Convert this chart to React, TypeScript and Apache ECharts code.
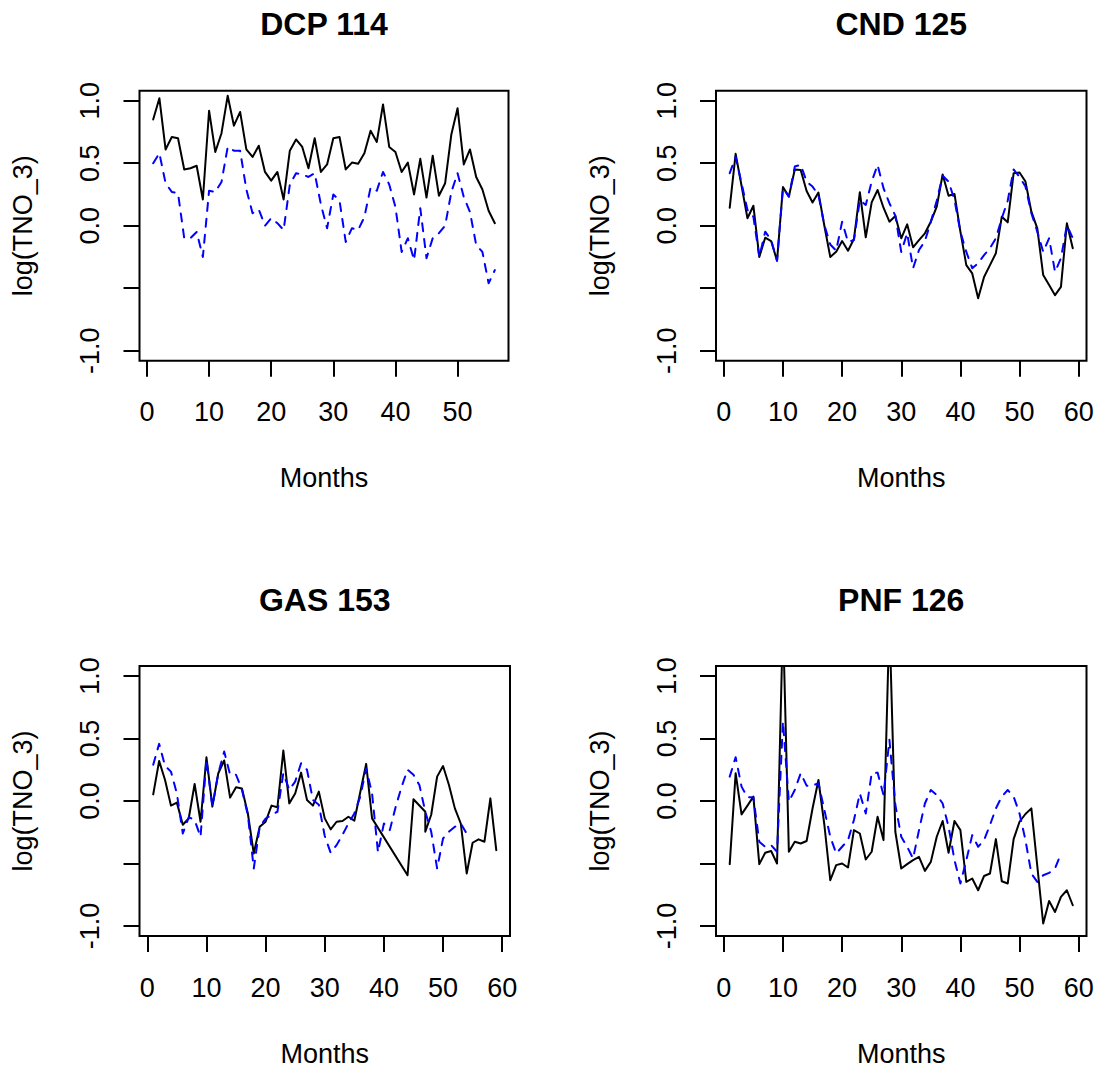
import React, { useEffect, useRef } from "react";
import * as echarts from "echarts";

const FONT = "'Liberation Sans', Arial, Helvetica, sans-serif";

const panelTitles = ["DCP 114", "CND 125", "GAS 153", "PNF 126"];
const xAxisTitle = "Months";
const yAxisTitle = "log(TNO_3)";
const xTicksShort = [0, 10, 20, 30, 40, 50];
const xTicksLong = [0, 10, 20, 30, 40, 50, 60];
const yTicks = [-1, -0.5, 0, 0.5, 1];
const yTickLabels = [-1, 0, 0.5, 1];
const yLimits = [-1, 1];

// DCP 114
const dcpActual = [
  0.85, 1.02, 0.61, 0.71, 0.7, 0.45, 0.46, 0.48, 0.21, 0.92,
  0.59, 0.74, 1.04, 0.8, 0.91, 0.61, 0.55, 0.64, 0.43, 0.36,
  0.43, 0.21, 0.6, 0.69, 0.63, 0.46, 0.7, 0.43, 0.49, 0.7,
  0.71, 0.45, 0.505, 0.495, 0.58, 0.76, 0.67, 0.97, 0.63, 0.59,
  0.43, 0.505, 0.25, 0.535, 0.225, 0.56, 0.24, 0.34, 0.73, 0.94,
  0.49, 0.61, 0.39, 0.29, 0.12, 0.02,
];
const dcpFitted = [
  0.5, 0.58, 0.34, 0.27, 0.26, -0.1, -0.1, -0.05, -0.25, 0.28,
  0.27, 0.35, 0.63, 0.6, 0.6, 0.29, 0.1, 0.13, 0.0, 0.06,
  0.02, -0.035, 0.33, 0.42, 0.41, 0.39, 0.42, 0.17, -0.02, 0.25,
  0.2, -0.13, -0.02, -0.035, 0.07, 0.305, 0.28, 0.43, 0.33, 0.15,
  -0.21, -0.1, -0.275, 0.14, -0.26, -0.1, -0.06, 0.0, 0.27, 0.42,
  0.23, 0.11, -0.155, -0.21, -0.46, -0.355,
];

// CND 125
const cndActual = [
  0.144, 0.575, 0.32, 0.06, 0.16, -0.25, -0.096, -0.123, -0.28, 0.31,
  0.233, 0.45, 0.445, 0.278, 0.185, 0.265, 0.0, -0.25, -0.208, -0.123,
  -0.2, -0.107, 0.268, -0.093, 0.187, 0.286, 0.144, 0.032, 0.078, -0.101,
  0.011, -0.173, -0.115, -0.061, 0.032, 0.152, 0.41, 0.24, 0.254, -0.048,
  -0.315, -0.382, -0.58, -0.41, -0.315, -0.22, 0.072, 0.027, 0.42, 0.425,
  0.353, 0.112, -0.021, -0.395, -0.475, -0.556, -0.49, 0.019, -0.18,
];
const cndFitted = [
  0.42, 0.55, 0.34, 0.126, 0.072, -0.25, -0.048, -0.115, -0.28, 0.3,
  0.233, 0.473, 0.487, 0.353, 0.313, 0.246, 0.005, -0.15, -0.2, 0.032,
  -0.13, -0.115, 0.206, 0.166, 0.353, 0.487, 0.3, 0.18, 0.08, -0.21,
  -0.06, -0.34, -0.195, -0.123, 0.03, 0.2, 0.4, 0.353, 0.206, -0.048,
  -0.21, -0.34, -0.3, -0.235, -0.18, -0.1, 0.06, 0.2, 0.45, 0.39,
  0.313, 0.1, -0.048, -0.21, -0.1, -0.37, -0.26, 0.005, -0.1,
];

// GAS 153 (actual series has gaps in its months)
const gasActualMonths = [
  1, 2, 3, 4, 5, 6, 7, 8, 9, 10, 11, 12, 13, 14, 15, 16, 17, 18, 19, 20,
  21, 22, 23, 24, 25, 26, 27, 28, 29, 30, 31, 32, 33, 34, 35, 36, 37, 38,
  44, 45, 47, 47, 48, 49, 50, 51, 52, 53, 54, 55, 56, 57, 58, 59,
];
const gasActual = [
  0.053, 0.32, 0.168, -0.037, -0.013, -0.19, -0.14, 0.136, -0.166, 0.35,
  -0.045, 0.222, 0.324, 0.027, 0.11, 0.1, -0.1, -0.42, -0.206, -0.166,
  -0.037, -0.05, 0.404, -0.019, 0.06, 0.227, 0.008, -0.037, 0.075, -0.139,
  -0.227, -0.166, -0.16, -0.126, -0.158, 0.07, 0.297, -0.139,
  -0.594, 0.014, -0.086, -0.246, -0.11, 0.195, 0.28, 0.128, -0.059, -0.18,
  -0.58, -0.334, -0.307, -0.326, 0.021, -0.393,
];
const gasFitted = [
  0.29, 0.457, 0.28, 0.235, 0.06, -0.26, -0.13, -0.152, -0.286, 0.33,
  -0.045, 0.222, 0.396, 0.21, 0.21, 0.09, -0.112, -0.54, -0.206, -0.14,
  -0.112, -0.086, 0.222, 0.09, 0.155, 0.302, 0.25, 0.008, -0.03, -0.28,
  -0.414, -0.353, -0.27, -0.18, -0.1, 0.035, 0.26, 0.06, -0.41, -0.18,
  -0.233, -0.045, 0.115, 0.25, 0.21, 0.128, -0.086, -0.246, -0.54, -0.3,
  -0.246, -0.206, -0.18, -0.26,
];

// PNF 126
const pnfActual = [
  -0.505, 0.222, -0.107, -0.037, 0.035, -0.505, -0.414, -0.4, -0.5, 1.45,
  -0.406, -0.326, -0.34, -0.32, -0.06, 0.168, -0.19, -0.634, -0.513, -0.5,
  -0.532, -0.233, -0.26, -0.468, -0.406, -0.126, -0.313, 1.45, -0.246, -0.54,
  -0.505, -0.473, -0.447, -0.559, -0.487, -0.286, -0.16, -0.414, -0.16, -0.233,
  -0.647, -0.62, -0.714, -0.6, -0.58, -0.305, -0.642, -0.66, -0.305, -0.166,
  -0.104, -0.059, -0.52, -0.98, -0.8, -0.888, -0.767, -0.714, -0.834,
];
const pnfFitted = [
  0.195, 0.35, 0.115, 0.03, 0.03, -0.326, -0.366, -0.353, -0.406, 0.636,
  -0.005, 0.088, 0.222, 0.123, 0.123, 0.142, -0.072, -0.286, -0.42, -0.366,
  -0.313, -0.152, 0.06, -0.1, 0.222, 0.227, 0.048, 0.49, -0.03, -0.286,
  -0.366, -0.46, -0.233, -0.02, 0.088, 0.048, -0.02, -0.206, -0.473, -0.66,
  -0.473, -0.273, -0.366, -0.313, -0.193, -0.059, 0.035, 0.088, 0.035, -0.1,
  -0.313, -0.58, -0.647, -0.594, -0.575, -0.54, -0.42,
];

const seq = (n: number) => Array.from({ length: n }, (_, i) => i + 1);

const panels = [
  { actualX: seq(dcpActual.length), actual: dcpActual, fittedX: seq(dcpFitted.length), fitted: dcpFitted, ticks: xTicksShort },
  { actualX: seq(cndActual.length), actual: cndActual, fittedX: seq(cndFitted.length), fitted: cndFitted, ticks: xTicksLong },
  { actualX: gasActualMonths, actual: gasActual, fittedX: seq(gasFitted.length), fitted: gasFitted, ticks: xTicksLong },
  { actualX: seq(pnfActual.length), actual: pnfActual, fittedX: seq(pnfFitted.length), fitted: pnfFitted, ticks: xTicksLong },
];

const gridBoxes = [
  { left: 139.5, top: 90.7, width: 369, height: 270 },
  { left: 716, top: 90.7, width: 370.5, height: 270 },
  { left: 139.5, top: 666, width: 370.5, height: 270 },
  { left: 716, top: 666, width: 370.5, height: 270 },
];

function extend(lo: number, hi: number) {
  const d = (hi - lo) * 0.04;
  return [lo - d, hi + d];
}

function buildOption() {
  const textBase = { fontFamily: FONT, color: "#000", fontSize: 27 };
  const grid: any[] = [];
  const xAxis: any[] = [];
  const yAxis: any[] = [];
  const series: any[] = [];
  const title: any[] = [];

  panels.forEach((p, k) => {
    const g = gridBoxes[k];
    grid.push({
      left: g.left,
      top: g.top,
      width: g.width,
      height: g.height,
      show: true,
      borderColor: "#000",
      borderWidth: 2,
      backgroundColor: "transparent",
      containLabel: false,
    });
    const allX = p.actualX.concat(p.fittedX);
    const [xmin, xmax] = extend(Math.min(...allX), Math.max(...allX));
    const [ymin, ymax] = extend(yLimits[0], yLimits[1]);
    xAxis.push({
      gridIndex: k,
      type: "value",
      position: "bottom",
      min: xmin,
      max: xmax,
      axisLine: { show: false, onZero: false },
      splitLine: { show: false },
      axisTick: {
        show: true,
        inside: false,
        length: 16,
        customValues: p.ticks,
        lineStyle: { color: "#000", width: 2 },
      },
      axisLabel: {
        show: true,
        customValues: p.ticks,
        margin: 38,
        ...textBase,
        formatter: (v: number) => String(v),
      },
      name: xAxisTitle,
      nameLocation: "middle",
      nameGap: 104,
      nameTextStyle: { ...textBase },
    });
    yAxis.push({
      gridIndex: k,
      type: "value",
      position: "left",
      min: ymin,
      max: ymax,
      axisLine: { show: false, onZero: false },
      splitLine: { show: false },
      axisTick: {
        show: true,
        inside: false,
        length: 16,
        customValues: yTicks,
        lineStyle: { color: "#000", width: 2 },
      },
      axisLabel: {
        show: true,
        customValues: yTickLabels,
        rotate: 90,
        margin: 36,
        ...textBase,
        formatter: (v: number) => v.toFixed(1),
      },
      name: yAxisTitle,
      nameLocation: "middle",
      nameRotate: 90,
      nameGap: 103,
      nameTextStyle: { ...textBase },
    });
    series.push({
      type: "line",
      xAxisIndex: k,
      yAxisIndex: k,
      data: p.actualX.map((x, i) => [x, p.actual[i]]),
      symbol: "none",
      showSymbol: false,
      clip: true,
      silent: true,
      lineStyle: { color: "#000", width: 2, join: "round", cap: "round" },
      itemStyle: { color: "#000" },
    });
    series.push({
      type: "line",
      xAxisIndex: k,
      yAxisIndex: k,
      data: p.fittedX.map((x, i) => [x, p.fitted[i]]),
      symbol: "none",
      showSymbol: false,
      clip: true,
      silent: true,
      lineStyle: { color: "#0000FF", width: 2, type: [8, 8], join: "round", cap: "round" },
      itemStyle: { color: "#0000FF" },
    });
    title.push({
      text: panelTitles[k],
      left: g.left + g.width / 2,
      top: k < 2 ? 8.3 : 583.6,
      textAlign: "center",
      padding: 0,
      textStyle: { fontFamily: FONT, color: "#000", fontSize: 32, fontWeight: "bold" },
    });
  });

  return {
    animation: false,
    backgroundColor: "#ffffff",
    title,
    grid,
    xAxis,
    yAxis,
    series,
  };
}

export default function App() {
  const ref = useRef<HTMLDivElement>(null);
  useEffect(() => {
    if (!ref.current) return;
    const chart = echarts.init(ref.current, undefined, { renderer: "svg" });
    chart.setOption(buildOption() as any);
    return () => chart.dispose();
  }, []);
  return (
    <div
      ref={ref}
      style={{ position: "absolute", left: 0, top: 0, width: 1099, height: 1069, background: "#fff" }}
    />
  );
}
